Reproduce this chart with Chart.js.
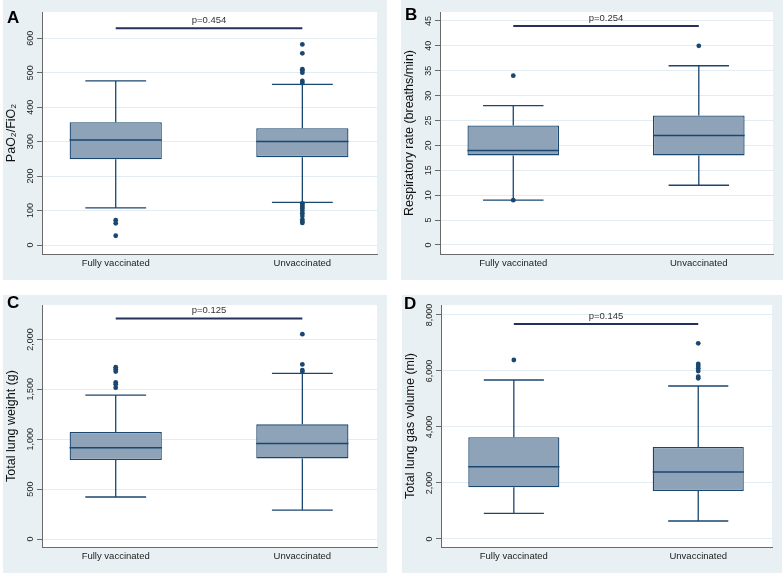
<!DOCTYPE html>
<html>
<head>
<meta charset="utf-8">
<script src="https://cdn.jsdelivr.net/npm/chart.js@4.4.1/dist/chart.umd.min.js"></script>
<style>
  body { margin: 0; background: #fff; }
  #page { position: relative; width: 784px; height: 575px; overflow: hidden; }
  .panel { position: absolute; background: #e9f0f3; }
  .panel canvas { position: absolute; left: 0; top: 0; }
  .letter { position: absolute; font: bold 17px 'Liberation Sans', Arial, sans-serif; line-height: 17px; color: #000; }
</style>
</head>
<body>
<div id="page">
  <div class="panel" style="left:3px;top:0px;width:384px;height:280px"><canvas id="chartA" width="384" height="280"></canvas></div>
  <div class="panel" style="left:401px;top:0px;width:382px;height:280px"><canvas id="chartB" width="382" height="280"></canvas></div>
  <div class="panel" style="left:3px;top:295px;width:384px;height:278px"><canvas id="chartC" width="384" height="278"></canvas></div>
  <div class="panel" style="left:402px;top:295px;width:380px;height:278px"><canvas id="chartD" width="380" height="278"></canvas></div>
  <div class="letter" style="left:7px;top:9px">A</div>
  <div class="letter" style="left:405px;top:6px">B</div>
  <div class="letter" style="left:7px;top:294px">C</div>
  <div class="letter" style="left:404px;top:295px">D</div>
</div>
<script>
const groups = ['Fully vaccinated', 'Unvaccinated'];
const groupPos = [1, 2];

// A - PaO2/FiO2
const pfTicks = [0, 100, 200, 300, 400, 500, 600];
const pfTickLabels = ['0', '100', '200', '300', '400', '500', '600'];
const pfQ1 = [249, 255];
const pfMedian = [305, 300];
const pfQ3 = [356, 339];
const pfLow = [108, 124];
const pfHigh = [476, 466];
const pfOutFully = [72, 63, 27];
const pfOutUnvacc = [582, 556, 510, 506, 500, 476, 470, 121, 116, 111, 106, 99, 92, 84, 74, 68, 64];

// B - respiratory rate
const rrTicks = [0, 5, 10, 15, 20, 25, 30, 35, 40, 45];
const rrTickLabels = ['0', '5', '10', '15', '20', '25', '30', '35', '40', '45'];
const rrQ1 = [18, 18];
const rrMedian = [19, 22];
const rrQ3 = [24, 26];
const rrLow = [9, 12];
const rrHigh = [28, 36];
const rrOutFully = [34, 9];
const rrOutUnvacc = [40];

// C - total lung weight
const lwTicks = [0, 500, 1000, 1500, 2000];
const lwTickLabels = ['0', '500', '1,000', '1,500', '2,000'];
const lwQ1 = [791, 808];
const lwMedian = [914, 958];
const lwQ3 = [1072, 1149];
const lwLow = [421, 290];
const lwHigh = [1442, 1659];
const lwOutFully = [1722, 1702, 1678, 1570, 1550, 1517];
const lwOutUnvacc = [2053, 1750, 1693, 1676];

// D - total lung gas volume
const gvTicks = [0, 2000, 4000, 6000, 8000];
const gvTickLabels = ['0', '2,000', '4,000', '6,000', '8,000'];
const gvQ1 = [1845, 1714];
const gvMedian = [2583, 2393];
const gvQ3 = [3632, 3286];
const gvLow = [917, 643];
const gvHigh = [5679, 5464];
const gvOutFully = [6393];
const gvOutUnvacc = [6988, 6250, 6179, 6095, 6000, 5798, 5738];

const pLabels = ['p=0.454', 'p=0.254', 'p=0.125', 'p=0.145'];
const pLevels = [629, 44, 2210, 7679];

const navy = '#1a476f';
const boxFill = '#8ea3b8';
const gridColor = '#e3ecf0';
const axisColor = '#6a6a6a';
const fontFamily = "'Liberation Sans', Arial, sans-serif";
const boxHalf = 0.247;
const capHalf = 0.163;
const tickFontSize = 9;

Chart.defaults.font.family = fontFamily;

const panels = [
  { id: 'chartA', title: 'PaO₂/FiO₂', ticks: pfTicks, tickLabels: pfTickLabels, yMin: -26, yMax: 676,
    q1: pfQ1, median: pfMedian, q3: pfQ3, low: pfLow, high: pfHigh, outliers: [pfOutFully, pfOutUnvacc], padTop: 12 },
  { id: 'chartB', title: 'Respiratory rate (breaths/min)', ticks: rrTicks, tickLabels: rrTickLabels, yMin: -1.81, yMax: 46.8,
    q1: rrQ1, median: rrMedian, q3: rrQ3, low: rrLow, high: rrHigh, outliers: [rrOutFully, rrOutUnvacc], padTop: 12 },
  { id: 'chartC', title: 'Total lung weight (g)', ticks: lwTicks, tickLabels: lwTickLabels, yMin: -80, yMax: 2345,
    q1: lwQ1, median: lwMedian, q3: lwQ3, low: lwLow, high: lwHigh, outliers: [lwOutFully, lwOutUnvacc], padTop: 10 },
  { id: 'chartD', title: 'Total lung gas volume (ml)', ticks: gvTicks, tickLabels: gvTickLabels, yMin: -286, yMax: 8357,
    q1: gvQ1, median: gvMedian, q3: gvQ3, low: gvLow, high: gvHigh, outliers: [gvOutFully, gvOutUnvacc], padTop: 10 },
];

// white plot region inside the grey graph region
const plotBackground = {
  id: 'plotBackground',
  beforeDraw(chart) {
    const { ctx, chartArea: a } = chart;
    ctx.save();
    ctx.fillStyle = '#fff';
    ctx.fillRect(a.left, a.top, a.right - a.left, a.bottom - a.top);
    ctx.restore();
  }
};

// p-value text above the comparison bar
const pLabel = {
  id: 'pLabel',
  afterDatasetsDraw(chart, args, opts) {
    const { ctx, scales: { x, y } } = chart;
    ctx.save();
    ctx.font = '9.5px ' + fontFamily;
    ctx.fillStyle = '#333';
    ctx.textAlign = 'center';
    ctx.textBaseline = 'bottom';
    ctx.fillText(opts.text, x.getPixelForValue(1.5), y.getPixelForValue(opts.level) - 3);
    ctx.restore();
  }
};

// rotated labels are centred widest/2 away, so pull them back to ~11px off the axis
function tickPadding(labels) {
  const ctx = document.createElement('canvas').getContext('2d');
  ctx.font = tickFontSize + 'px ' + fontFamily;
  const widest = Math.max(...labels.map(l => ctx.measureText(l).width));
  return 11 - 5 - widest / 2;
}

function buildDatasets(p, idx) {
  const whiskers = [];
  const medians = [];
  const dots = [];
  groupPos.forEach((x, i) => {
    whiskers.push(
      { x, y: p.q3[i] }, { x, y: p.high[i] }, { x, y: null },
      { x: x - capHalf, y: p.high[i] }, { x: x + capHalf, y: p.high[i] }, { x, y: null },
      { x, y: p.q1[i] }, { x, y: p.low[i] }, { x, y: null },
      { x: x - capHalf, y: p.low[i] }, { x: x + capHalf, y: p.low[i] }, { x, y: null }
    );
    medians.push({ x: x - boxHalf, y: p.median[i] }, { x: x + boxHalf, y: p.median[i] }, { x, y: null });
    p.outliers[i].forEach(v => dots.push({ x, y: v }));
  });
  return [
    {
      type: 'bar',
      data: groupPos.map((x, i) => ({ x, y: [p.q1[i], p.q3[i]] })),
      backgroundColor: boxFill,
      borderColor: navy,
      borderWidth: 1.3,
      borderSkipped: false,
      categoryPercentage: 1,
      barPercentage: boxHalf * 2,
      order: 2
    },
    { type: 'line', data: whiskers, borderColor: navy, borderWidth: 1.3, pointRadius: 0, spanGaps: false, order: 1 },
    { type: 'line', data: medians, borderColor: navy, borderWidth: 1.5, pointRadius: 0, spanGaps: false, order: 1 },
    { type: 'scatter', data: dots, pointRadius: 2.4, backgroundColor: navy, borderColor: navy, borderWidth: 0, order: 0 },
    {
      type: 'line',
      data: [{ x: groupPos[0], y: pLevels[idx] }, { x: groupPos[1], y: pLevels[idx] }],
      borderColor: '#25305c', borderWidth: 2, pointRadius: 0, order: 0
    }
  ];
}

panels.forEach((p, idx) => {
  const ctx = document.getElementById(p.id).getContext('2d');
  new Chart(ctx, {
    type: 'bar',
    data: { datasets: buildDatasets(p, idx) },
    options: {
      responsive: false,
      animation: false,
      events: [],
      layout: { padding: { top: p.padTop, right: 10, left: 0, bottom: 0 } },
      plugins: {
        legend: { display: false },
        tooltip: { enabled: false },
        pLabel: { text: pLabels[idx], level: pLevels[idx] }
      },
      scales: {
        x: {
          type: 'linear',
          min: 0.605,
          max: 2.4,
          offset: false,
          afterBuildTicks: s => { s.ticks = groupPos.map(v => ({ value: v })); },
          afterFit: s => { s.height = 26; },
          ticks: {
            callback: (v, i) => groups[i],
            autoSkip: false,
            maxRotation: 0,
            padding: 4,
            color: '#222',
            font: { size: 9.5 }
          },
          grid: { display: false, drawTicks: false, offset: false },
          border: { color: axisColor, width: 1 }
        },
        y: {
          min: p.yMin,
          max: p.yMax,
          afterBuildTicks: s => { s.ticks = p.ticks.map(v => ({ value: v })); },
          afterFit: s => { s.width = 39; },
          ticks: {
            callback: (v, i) => p.tickLabels[i],
            autoSkip: false,
            minRotation: 90,
            maxRotation: 90,
            crossAlign: 'center',
            padding: tickPadding(p.tickLabels),
            color: '#222',
            font: { size: tickFontSize }
          },
          grid: { color: gridColor, tickColor: axisColor, tickLength: 5, lineWidth: 1 },
          border: { color: axisColor, width: 1 },
          title: {
            display: true,
            text: p.title,
            color: '#111',
            font: { size: 12.5 },
            padding: { top: 1.5, bottom: 0 }
          }
        }
      }
    },
    plugins: [plotBackground, pLabel]
  });
});
</script>
</body>
</html>
